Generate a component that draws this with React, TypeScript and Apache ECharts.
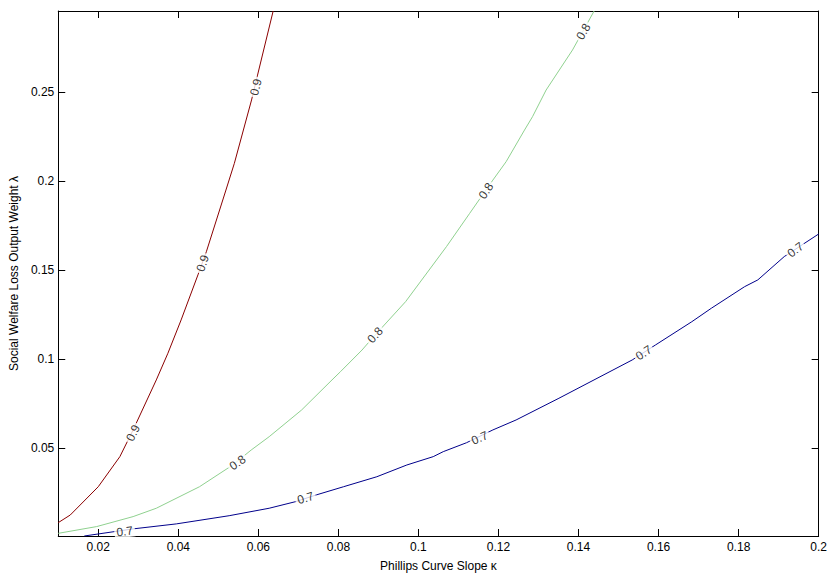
import React, { useEffect, useRef } from "react";
import * as echarts from "echarts";

const xMin = 0.01;
const xMax = 0.2;
const yMin = 0.0007;
const yMax = 0.2957;
const xTicks = [0.02, 0.04, 0.06, 0.08, 0.1, 0.12, 0.14, 0.16, 0.18, 0.2];
const yTicks = [0.05, 0.1, 0.15, 0.2, 0.25];

const levels = ["0.7", "0.8", "0.9"];

const redX = [0.01, 0.013, 0.02, 0.0254, 0.0287, 0.0345, 0.0374, 0.0407, 0.0449, 0.047, 0.0519, 0.054, 0.0583, 0.0598, 0.0637];
const redY = [0.0082, 0.0125, 0.0284, 0.0453, 0.0603, 0.0884, 0.1034, 0.1221, 0.1474, 0.1604, 0.1951, 0.2101, 0.2457, 0.2597, 0.2957];

const greenX = [0.01, 0.0196, 0.0287, 0.0345, 0.0453, 0.0536, 0.0582, 0.0627, 0.0708, 0.0784, 0.0805, 0.0859, 0.0888, 0.0968, 0.107, 0.1128, 0.1186, 0.1219, 0.1265, 0.1285, 0.1319, 0.1385, 0.1439];
const greenY = [0.0022, 0.006, 0.0116, 0.0163, 0.0284, 0.0406, 0.049, 0.0565, 0.0715, 0.0884, 0.093, 0.1052, 0.1127, 0.1324, 0.1633, 0.182, 0.2007, 0.211, 0.2288, 0.2363, 0.2513, 0.2738, 0.2957];

const blueX = [0.0165, 0.0287, 0.0395, 0.0527, 0.0627, 0.0693, 0.0745, 0.0813, 0.0896, 0.0971, 0.1037, 0.1062, 0.112, 0.1186, 0.1244, 0.1351, 0.1534, 0.1592, 0.1683, 0.1732, 0.1815, 0.1848, 0.1914, 0.2];
const blueY = [0.0007, 0.0047, 0.0075, 0.0121, 0.0163, 0.02, 0.0238, 0.0284, 0.034, 0.0406, 0.0453, 0.0481, 0.0531, 0.0603, 0.0659, 0.0781, 0.0996, 0.108, 0.1211, 0.1287, 0.1408, 0.1446, 0.1577, 0.1704];

// contour labels: [x, y, rotation deg]
const redLabels = [[0.0287, 0.0586, 64], [0.0461, 0.1539, 71], [0.0594, 0.2529, 76]];
const greenLabels = [[0.0548, 0.0419, 35], [0.0892, 0.1136, 48], [0.1169, 0.1946, 56], [0.1412, 0.2841, 60]];
const blueLabels = [[0.0266, 0.0032, 7], [0.0718, 0.022, 17], [0.1153, 0.0558, 23], [0.1563, 0.1036, 33], [0.1942, 0.1615, 37]];

const FONT = "'Liberation Sans', Arial, Helvetica, sans-serif";

function zip(xs: number[], ys: number[]) {
  return xs.map((x, i) => [x, ys[i]]);
}

function fmt(v: number) {
  return String(parseFloat(Number(v).toFixed(4)));
}

export default function App() {
  const ref = useRef<HTMLDivElement>(null);
  useEffect(() => {
    if (!ref.current) return;
    const chart = echarts.init(ref.current, null, { renderer: "svg" });

    const lineSeries = (name: string, data: number[][], color: string) => ({
      name,
      type: "line",
      data,
      showSymbol: false,
      symbol: "none",
      lineStyle: { color, width: 1 },
      z: 2,
      silent: true,
      clip: true,
    });

    const labelSeries = (name: string, labels: number[][]) => ({
      name: name + " labels",
      type: "scatter",
      symbolSize: 0,
      z: 5,
      silent: true,
      data: labels.map((l) => ({
        value: [l[0], l[1]],
        label: {
          show: true,
          position: "inside",
          formatter: name,
          rotate: l[2],
          color: "#000",
          fontSize: 12,
          fontFamily: FONT,
          backgroundColor: "#fff",
          padding: [0, 2],
        },
      })),
    });

    const common = {
      min: xMin,
      max: xMax,
      type: "value",
    };

    chart.setOption({
      animation: false,
      backgroundColor: "#fff",
      grid: { left: 55, right: 10, top: 11, bottom: 41, containLabel: false },
      xAxis: [
        {
          ...common,
          position: "bottom",
          name: "Phillips Curve Slope κ",
          nameLocation: "middle",
          nameGap: 24,
          nameTextStyle: { color: "#000", fontSize: 12, fontFamily: FONT },
          axisLine: { show: true, lineStyle: { color: "#000", width: 1 } },
          axisTick: { show: true, inside: true, length: 7, customValues: xTicks, lineStyle: { color: "#000" } },
          axisLabel: { show: true, customValues: xTicks, formatter: (v: number) => fmt(v), color: "#000", fontSize: 12, fontFamily: FONT, margin: 5 },
          splitLine: { show: false },
        },
        {
          ...common,
          position: "top",
          axisLine: { show: true, lineStyle: { color: "#000", width: 1 } },
          axisTick: { show: true, inside: true, length: 7, customValues: xTicks, lineStyle: { color: "#000" } },
          axisLabel: { show: false },
          splitLine: { show: false },
        },
      ],
      yAxis: [
        {
          type: "value",
          min: yMin,
          max: yMax,
          position: "left",
          name: "Social Welfare Loss Output Weight λ",
          nameLocation: "middle",
          nameGap: 36,
          nameTextStyle: { color: "#000", fontSize: 12, fontFamily: FONT },
          axisLine: { show: true, lineStyle: { color: "#000", width: 1 } },
          axisTick: { show: true, inside: true, length: 7, customValues: yTicks, lineStyle: { color: "#000" } },
          axisLabel: { show: true, customValues: yTicks, formatter: (v: number) => fmt(v), color: "#000", fontSize: 12, fontFamily: FONT, margin: 4 },
          splitLine: { show: false },
        },
        {
          type: "value",
          min: yMin,
          max: yMax,
          position: "right",
          axisLine: { show: true, lineStyle: { color: "#000", width: 1 } },
          axisTick: { show: true, inside: true, length: 7, customValues: yTicks, lineStyle: { color: "#000" } },
          axisLabel: { show: false },
          splitLine: { show: false },
        },
      ],
      series: [
        lineSeries(levels[2], zip(redX, redY), "#8b0000"),
        lineSeries(levels[1], zip(greenX, greenY), "#8fd18f"),
        lineSeries(levels[0], zip(blueX, blueY), "#00008b"),
        labelSeries(levels[2], redLabels),
        labelSeries(levels[1], greenLabels),
        labelSeries(levels[0], blueLabels),
      ],
    });
    return () => chart.dispose();
  }, []);

  return (
    <div
      ref={ref}
      style={{ position: "fixed", left: 0, top: 0, width: 830, height: 577, background: "#fff" }}
    />
  );
}
